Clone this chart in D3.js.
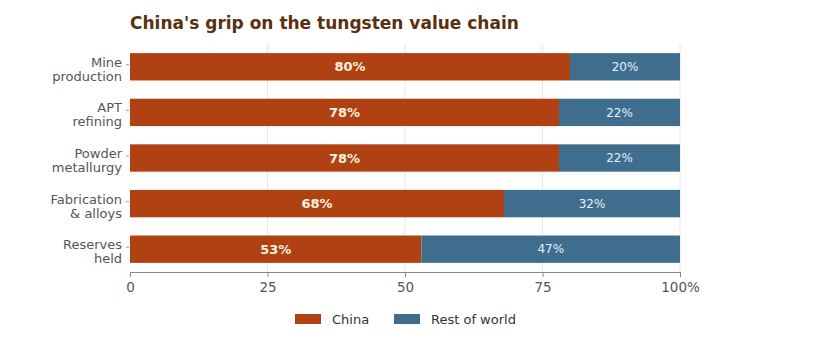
<!DOCTYPE html>
<html>
<head>
<meta charset="utf-8">
<script src="https://cdn.jsdelivr.net/npm/d3@7"></script>
<style>
  body { margin: 0; background: #fff; }
  text { font-family: "DejaVu Sans", sans-serif; }
</style>
</head>
<body>
<div id="chart"></div>
<script>
var stages = [["Mine", "production"], ["APT", "refining"], ["Powder", "metallurgy"], ["Fabrication", "& alloys"], ["Reserves", "held"]];
var china = [80, 78, 78, 68, 53];
var rest = [20, 22, 22, 32, 47];
var ticks = [0, 25, 50, 75, 100];
var series = ["China", "Rest of world"];

var W = 817, H = 342;
var margin = { left: 130, right: 137, top: 44, bottom: 70 };
var width = W - margin.left - margin.right,
    height = H - margin.top - margin.bottom;

var colChina = "#b04112", colRest = "#3f6d8e";

var svg = d3.select("#chart").append("svg")
    .attr("width", W)
    .attr("height", H);

svg.append("text")
    .attr("x", margin.left)
    .attr("y", 29)
    .attr("font-size", "17px")
    .attr("font-weight", "bold")
    .attr("fill", "#5a300f")
    .text("China's grip on the tungsten value chain");

var g = svg.append("g")
    .attr("transform", "translate(" + margin.left + "," + margin.top + ")");

var x = d3.scaleLinear().domain([0, 100]).range([0, width]);
var y = d3.scaleBand()
    .domain(d3.range(stages.length))
    .range([0, height])
    .paddingInner(0.4)
    .paddingOuter(0.2);

// grid
g.append("g").selectAll("line")
    .data(ticks.slice(1))
    .enter().append("line")
    .attr("x1", function(d){ return x(d); })
    .attr("x2", function(d){ return x(d); })
    .attr("y1", 0)
    .attr("y2", height)
    .attr("stroke", "#e6e6e6")
    .attr("stroke-width", 1);

// bars
var rows = g.append("g").selectAll("g")
    .data(stages.map(function(s, i){ return { i: i, c: china[i], r: rest[i] }; }))
    .enter().append("g");

rows.append("rect")
    .attr("x", x(0))
    .attr("y", function(d){ return y(d.i); })
    .attr("width", function(d){ return x(d.c) - x(0); })
    .attr("height", y.bandwidth())
    .attr("fill", colChina);

rows.append("rect")
    .attr("x", function(d){ return x(d.c); })
    .attr("y", function(d){ return y(d.i); })
    .attr("width", function(d){ return x(d.c + d.r) - x(d.c); })
    .attr("height", y.bandwidth())
    .attr("fill", colRest);

rows.append("text")
    .attr("x", function(d){ return x(d.c / 2); })
    .attr("y", function(d){ return y(d.i) + y.bandwidth() / 2; })
    .attr("dy", "0.35em")
    .attr("text-anchor", "middle")
    .attr("font-size", "13px")
    .attr("font-weight", "bold")
    .attr("fill", "#fdf1e0")
    .text(function(d){ return d.c + "%"; });

rows.append("text")
    .attr("x", function(d){ return x(d.c + d.r / 2); })
    .attr("y", function(d){ return y(d.i) + y.bandwidth() / 2; })
    .attr("dy", "0.35em")
    .attr("text-anchor", "middle")
    .attr("font-size", "12px")
    .attr("fill", "#e3f1fb")
    .text(function(d){ return d.r + "%"; });

// x axis
var xAxis = g.append("g")
    .attr("transform", "translate(0," + height + ")")
    .call(d3.axisBottom(x).tickValues(ticks).tickSize(5).tickPadding(5)
        .tickFormat(function(d){ return d === 100 ? "100%" : d; }));
xAxis.select(".domain").attr("stroke", "#888");
xAxis.selectAll(".tick line").attr("stroke", "#888");
xAxis.selectAll("text")
    .attr("font-family", "DejaVu Sans, sans-serif")
    .attr("font-size", "13.5px")
    .attr("fill", "#555");

// y axis labels
var yl = g.append("g").selectAll("g")
    .data(stages)
    .enter().append("g")
    .attr("transform", function(d, i){ return "translate(0," + (y(i) + y.bandwidth() / 2) + ")"; });

yl.append("line")
    .attr("x1", -4).attr("x2", -1)
    .attr("y1", -2).attr("y2", -2)
    .attr("stroke", "#999");

yl.append("text")
    .attr("x", -8)
    .attr("text-anchor", "end")
    .attr("font-size", "13px")
    .attr("fill", "#555")
    .selectAll("tspan")
    .data(function(d){ return d; })
    .enter().append("tspan")
    .attr("x", -8)
    .attr("y", function(d, i){ return i === 0 ? 0 : 14; })
    .text(function(d){ return d; });

// legend
var legend = svg.append("g")
    .attr("transform", "translate(295,314)");
var lx = [0, 99];
var item = legend.selectAll("g")
    .data(series)
    .enter().append("g")
    .attr("transform", function(d, i){ return "translate(" + lx[i] + ",0)"; });
item.append("rect")
    .attr("width", 26)
    .attr("height", 10)
    .attr("fill", function(d, i){ return i === 0 ? colChina : colRest; });
item.append("text")
    .attr("x", 37)
    .attr("y", 5)
    .attr("dy", "0.35em")
    .attr("font-size", "13px")
    .attr("fill", "#333")
    .text(function(d){ return d; });
</script>
</body>
</html>
